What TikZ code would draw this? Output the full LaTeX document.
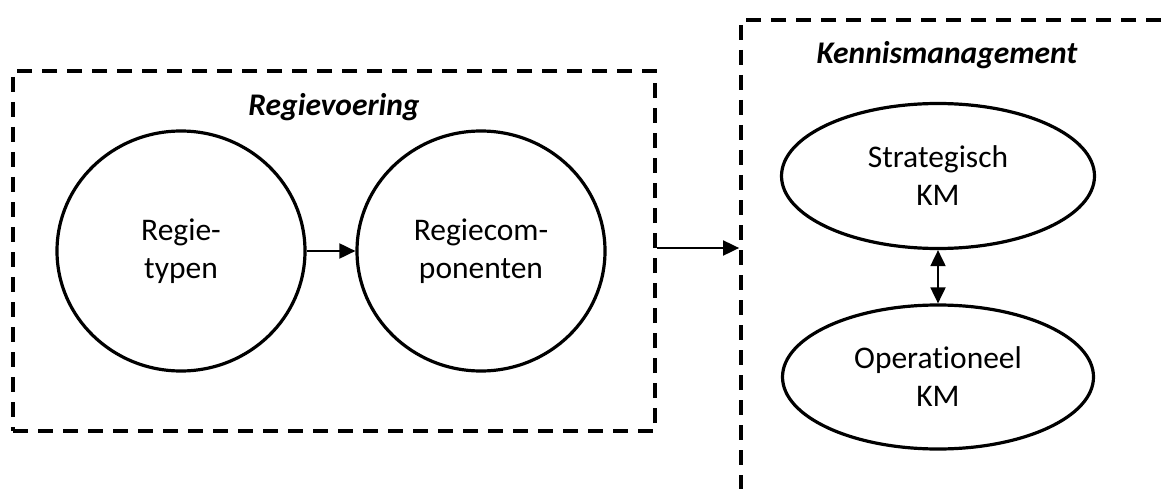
\documentclass[tikz,border=0pt]{standalone}
\usepackage{fontspec}
\setmainfont{Carlito}[Ligatures=NoCommon]
\usetikzlibrary{arrows.meta,shapes.geometric}
\tikzset{
  frame/.style={draw, line width=3.8pt, dash pattern=on 15pt off 10pt, rectangle, inner sep=0pt},
  bubble/.style={draw, line width=3.2pt, ellipse, inner sep=0pt, align=center,
    font=\fontsize{31.5}{38}\selectfont},
  heading/.style={font=\fontsize{31.5}{36}\selectfont\bfseries\itshape},
  link/.style={line width=1.9pt, -{Triangle[length=16pt,width=15pt]}},
  duallink/.style={line width=1.9pt, {Triangle[length=16pt,width=15pt]}-{Triangle[length=16pt,width=15pt]}},
}
\begin{document}
\begin{tikzpicture}[x=1pt,y=-1pt]
\useasboundingbox (0,0) rectangle (1166,489);
\begin{scope}
\clip (0,0) rectangle (1166,489);
% Regievoering frame
\node[frame, minimum width=642pt, minimum height=360pt] (lbox) at (334,251) {};
% Kennismanagement frame, running past the page edges
\node[frame, minimum width=460pt, minimum height=500pt] (rbox) at (971,270) {};
\end{scope}
\node[heading] (lt) at (334,107) {Regievoering};
\node[heading] (rt) at (947,55) {Kennismanagement};
% regie circles
\node[bubble, minimum width=248pt, minimum height=240pt] (c1) at (181,251) {Regie-\\typen};
\node[bubble, minimum width=248pt, minimum height=240pt] (c2) at (481,251) {Regiecom-\\ponenten};
\draw[link] (c1) -- (c2);
% KM ellipses
\node[bubble, minimum width=313pt, minimum height=145pt] (s) at (938,176) {Strategisch\\KM};
\node[bubble, minimum width=311pt, minimum height=144pt] (o) at (938,377) {Operationeel\\KM};
\draw[duallink] (s) -- (o);
% link between the frames
\coordinate (fa) at (lbox.east |- 0,248);
\coordinate (fb) at (rbox.west |- 0,248);
\draw[link] (fa) -- (fb);
\end{tikzpicture}
\end{document}
